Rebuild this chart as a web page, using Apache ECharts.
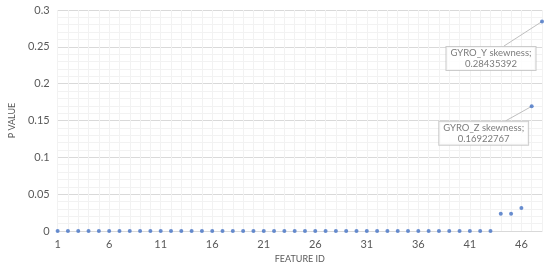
<!DOCTYPE html>
<html>
<head>
<meta charset="utf-8">
<script src="https://cdn.jsdelivr.net/npm/echarts@6/dist/echarts.min.js"></script>
<style>
  html, body { margin: 0; padding: 0; background: #fff; }
  #chart { width: 550px; height: 269px; }
</style>
</head>
<body>
<div id="chart"></div>
<script>
var featureIds = [];
for (var i = 1; i <= 48; i++) featureIds.push(String(i));

// p values, features 1..48
var pValues = [
  0, 0, 0, 0, 0, 0, 0, 0, 0, 0,
  0, 0, 0, 0, 0, 0, 0, 0, 0, 0,
  0, 0, 0, 0, 0, 0, 0, 0, 0, 0,
  0, 0, 0, 0, 0, 0, 0, 0, 0, 0,
  0, 0, 0, 0.0233, 0.0233, 0.0313, 0.16922767, 0.28435392
];

var calloutNames = { 46: 'GYRO_Z skewness', 47: 'GYRO_Y skewness' };
// callout box offset from the point [dx, dy], and x of the leader on the box top (from box centre)
var calloutShift = { 46: [-48, 27, 22], 47: [-51, 37, 13] };
var boxH = 25;

var dom = document.getElementById('chart');
var myChart = echarts.init(dom);

var points = pValues.map(function (v, i) {
  if (!calloutNames[i]) return v;
  return {
    value: v,
    label: {
      show: true,
      position: 'inside',
      formatter: calloutNames[i] + ';\n' + v.toFixed(8),
      color: '#595959',
      fontFamily: 'Lato, sans-serif',
      fontSize: 9.5,
      lineHeight: 10.5,
      align: 'center',
      backgroundColor: '#fff',
      borderColor: '#bfbfbf',
      borderWidth: 1,
      padding: [1, 4, 1, 4]
    }
  };
});

var option = {
  animation: false,
  grid: { left: 45, right: 8, top: 10, bottom: 36 },
  xAxis: [
    {
      type: 'category',
      data: featureIds,
      boundaryGap: false,
      name: 'FEATURE ID',
      nameLocation: 'middle',
      nameGap: 24,
      nameTextStyle: { color: '#595959', fontSize: 9, fontFamily: 'Lato, sans-serif' },
      axisLine: { lineStyle: { color: '#d9d9d9' } },
      axisTick: { show: false },
      axisLabel: { interval: 4, color: '#595959', fontSize: 11, fontFamily: 'Lato, sans-serif', margin: 8 },
      splitLine: { show: true, interval: 4, lineStyle: { color: '#d9d9d9' } }
    },
    {
      type: 'category',
      data: featureIds,
      boundaryGap: false,
      position: 'bottom',
      axisLine: { show: false },
      axisTick: { show: false },
      axisLabel: { show: false },
      splitLine: { show: true, interval: 0, lineStyle: { color: '#f2f2f2' } },
      z: 0
    }
  ],
  yAxis: {
    type: 'value',
    min: 0,
    max: 0.3,
    interval: 0.05,
    name: 'P VALUE',
    nameLocation: 'middle',
    nameGap: 30,
    nameTextStyle: { color: '#595959', fontSize: 9, fontFamily: 'Lato, sans-serif' },
    axisLine: { show: false },
    axisTick: { show: false },
    axisLabel: { color: '#595959', fontSize: 11, fontFamily: 'Lato, sans-serif', margin: 8 },
    splitLine: { lineStyle: { color: '#d9d9d9' } },
    minorTick: { show: false, splitNumber: 5 },
    minorSplitLine: { show: true, lineStyle: { color: '#f2f2f2' } }
  },
  series: [
    {
      type: 'scatter',
      data: points,
      symbol: 'circle',
      symbolSize: 4,
      itemStyle: { color: '#4472c4' },
      labelLayout: function (p) {
        var s = calloutShift[p.dataIndex];
        return s ? { dx: s[0], dy: s[1] } : {};
      },
      z: 5
    }
  ]
};
myChart.setOption(option, true);

// leader lines from each labelled point to the top of its callout box
var leaders = [];
for (var k in calloutShift) {
  var idx = +k, s = calloutShift[k];
  var p = myChart.convertToPixel({ xAxisIndex: 0, yAxisIndex: 0 }, [idx, pValues[idx]]);
  leaders.push({
    type: 'line',
    z: 4,
    shape: { x1: p[0], y1: p[1], x2: p[0] + s[0] + s[2], y2: p[1] + s[1] - boxH / 2 },
    style: { stroke: '#bfbfbf', lineWidth: 1 }
  });
}
myChart.setOption({ graphic: leaders });
</script>
</body>
</html>
